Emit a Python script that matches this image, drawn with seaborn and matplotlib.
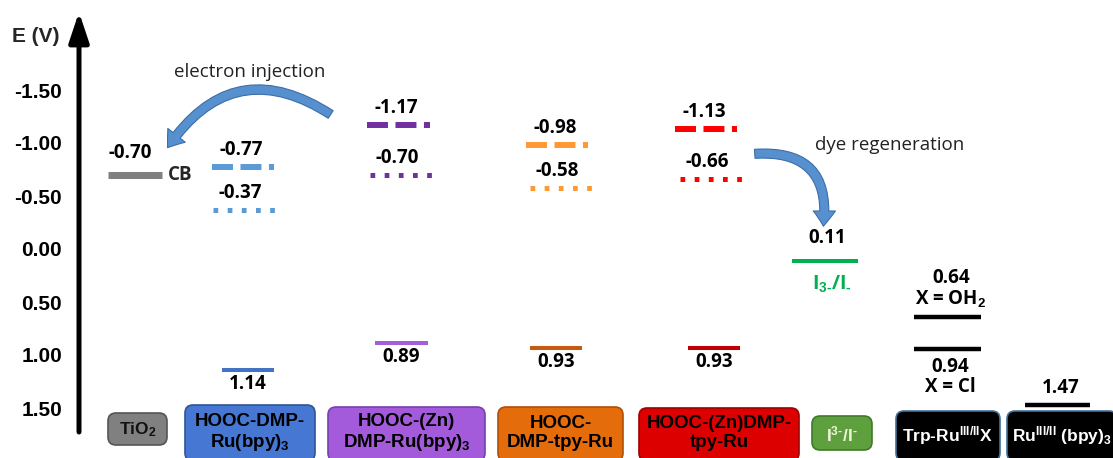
import matplotlib
matplotlib.use("Agg")
import matplotlib.pyplot as plt
from matplotlib.patches import FancyBboxPatch, FancyArrowPatch
import seaborn as sns

# ---- energy levels (V) ----
dyes = ["HOOC-DMP-Ru(bpy)3", "HOOC-(Zn)DMP-Ru(bpy)3", "HOOC-DMP-tpy-Ru", "HOOC-(Zn)DMP-tpy-Ru"]
excited_upper = [-0.77, -1.17, -0.98, -1.13]   # dashed levels
excited_lower = [-0.37, -0.70, -0.58, -0.66]   # dotted levels
ground_state = [1.14, 0.89, 0.93, 0.93]        # solid levels
tio2_cb = -0.70
iodide_redox = 0.11
trp_ru = [0.64, 0.94]
trp_ligands = ["X = OH$_2$", "X = Cl"]
ru_bpy = 1.47

tick_values = [-1.5, -1.0, -0.5, 0.0, 0.5, 1.0, 1.5]
tick_labels = ["-1.50", "-1.00", "-0.50", "0.00", "0.50", "1.00", "1.50"]

box_labels = ["TiO$_2$", "HOOC-DMP-\nRu(bpy)$_3$", "HOOC-(Zn)\nDMP-Ru(bpy)$_3$",
              "HOOC-\nDMP-tpy-Ru", "HOOC-(Zn)DMP-\ntpy-Ru", "I$^{3\u2010}$/I$^{\u2010}$",
              r"Trp-Ru$^{\rm III/II}$X", r"Ru$^{\rm III/II}$ (bpy)$_3$"]

# ---- styling / layout ----
sns.set_theme(style="white")
plt.rcParams["font.family"] = ["Open Sans", "DejaVu Sans"]
plt.rcParams["mathtext.fontset"] = "custom"
plt.rcParams["mathtext.rm"] = "Liberation Sans:bold"
plt.rcParams["mathtext.it"] = "Liberation Sans:bold"
plt.rcParams["mathtext.bf"] = "Liberation Sans:bold"
plt.rcParams["lines.scale_dashes"] = False

dye_colors = ["#5B9BD5", "#7030A0", "#FF9933", "#FF0000"]
ground_colors = ["#4472C4", "#A35FDB", "#C55A11", "#C00000"]
dash_x = [(212, 274), (367, 430), (526, 588), (675, 737)]
dot_x = [(213, 275), (370, 432), (530, 592), (680, 742)]
ground_x = [(222, 274), (375, 428), (530, 582), (688, 740)]

W, H = 1113, 458
PX = 0.72  # points per pixel at 100 dpi
fig = plt.figure(figsize=(W / 100, H / 100), dpi=100)
fig.patch.set_facecolor("white")

ax = fig.add_axes([0, 0, 1, 1])
ax.set_xlim(0, W)
ax.set_ylim(209 / 106, -249 / 106)   # energy axis, positive potentials downward
ax.set_facecolor("white")
sns.despine(ax=ax, left=True, bottom=True)
ax.set_xticks([])
ax.set_yticks(tick_values)
ax.set_yticklabels(tick_labels, fontweight="bold", family="Liberation Sans", fontsize=15)
ax.tick_params(axis="y", length=0, pad=-62 * PX, colors="black")
ax.grid(False)

label_kw = dict(ha="center", va="center", fontsize=13.5, fontweight="bold", color="black",
                textcoords="offset points")


def level(x0, x1, v, color, lw, ls="-"):
    ax.plot([x0, x1], [v, v], color=color, lw=lw, linestyle=ls,
            solid_capstyle="butt", dash_capstyle="butt")


def note(x, v, text, dy_px, **kw):
    opts = dict(label_kw)
    opts.update(kw)
    ax.annotate(text, (x, v), xytext=(0, dy_px * PX), **opts)


dashed = (0, (15.1, 5.4))
dotted = (0, (3.4, 6.8))

# TiO2 conduction band
level(108, 162, tio2_cb, "#808080", 5.0)
note(130, tio2_cb, f"{tio2_cb:.2f}", 22)
ax.annotate("CB", (168, tio2_cb), xytext=(0, 0), textcoords="offset points",
            ha="left", va="center", fontsize=13.5, fontweight="bold")

# dye levels
for i in range(len(dyes)):
    a, b = dash_x[i]
    level(a, b, excited_upper[i], dye_colors[i], 4.3, dashed)
    note((a + b) / 2 - 2, excited_upper[i], f"{excited_upper[i]:.2f}", 17)
    a, b = dot_x[i]
    level(a, b, excited_lower[i], dye_colors[i], 3.6, dotted)
    note((a + b) / 2 - 4, excited_lower[i], f"{excited_lower[i]:.2f}", 17)
    a, b = ground_x[i]
    level(a, b, ground_state[i], ground_colors[i], 2.9)
    note((a + b) / 2, ground_state[i], f"{ground_state[i]:.2f}", -14)

# iodide / triiodide couple
green = "#00B050"
level(792, 858, iodide_redox, green, 2.9)
note(827, iodide_redox, f"{iodide_redox:.2f}", 23)
note(832, iodide_redox, "I$_{3\u2010}$/I$_{\u2010}$", -23, color=green, fontsize=14)

# Trp-Ru complexes
level(914, 981, trp_ru[0], "black", 3.2)
note(951, trp_ru[0], f"{trp_ru[0]:.2f}", 39)
note(951, trp_ru[0], trp_ligands[0], 18)
level(914, 981, trp_ru[1], "black", 3.2)
note(950, trp_ru[1], f"{trp_ru[1]:.2f}", -18)
note(950, trp_ru[1], trp_ligands[1], -38)

# Ru(bpy)3
level(1025, 1090, ru_bpy, "black", 3.2)
note(1061, ru_bpy, f"{ru_bpy:.2f}", 17)

# ---- overlay in pixel units: axis arrow, curved arrows, category boxes ----
bx = fig.add_axes([0, 0, 1, 1])
bx.set_xlim(0, W)
bx.set_ylim(H, 0)
bx.axis("off")
bx.patch.set_alpha(0)

bx.annotate("", xy=(79, 12), xytext=(79, 432),
            arrowprops=dict(arrowstyle="-|>,head_length=0.9,head_width=0.3", lw=3.6,
                            color="black", mutation_scale=20, shrinkA=0, shrinkB=0))
bx.text(36, 36, "E (V)", ha="center", va="center", fontsize=15, fontweight="bold",
        family="Liberation Sans")

arrow_style = "simple,head_length=1.1,head_width=1.6,tail_width=0.65"
for start, end, rad in [((333, 116), (166, 150), 0.5), ((752, 154), (823, 229), -0.62)]:
    bx.add_patch(FancyArrowPatch(start, end, connectionstyle=f"arc3,rad={rad}",
                                 arrowstyle=arrow_style, mutation_scale=10,
                                 facecolor="#5690CF", edgecolor="#3B6EA8", lw=0.8))
bx.text(250, 72, "electron injection", ha="center", va="center", fontsize=13.5, color="#222222")
bx.text(890, 145, "dye regeneration", ha="center", va="center", fontsize=13.5, color="#222222")

boxes = [
    (108, 413, 59, 32, "#808080", "#555555", "#111111"),
    (185, 405, 130, 56, "#4677D2", "#2F5597", "black"),
    (328, 407, 157, 54, "#A35BDB", "#7A3FAF", "black"),
    (498, 407, 125, 54, "#E46C0A", "#B05008", "black"),
    (639, 408, 160, 53, "#DD0000", "#A00000", "black"),
    (812, 416, 60, 34, "#5E9F3E", "#3F7A2A", "#F2F2DC"),
    (896, 411, 104, 50, "black", "#41719C", "white"),
    (1007, 411, 110, 50, "black", "#41719C", "white"),
]
for (x, y, w, h, fc, ec, tc), lab in zip(boxes, box_labels):
    bx.add_patch(FancyBboxPatch((x, y), w, h, boxstyle="round,pad=0,rounding_size=8",
                                facecolor=fc, edgecolor=ec, lw=1.2, mutation_aspect=1))
    two_lines = "\n" in lab
    cy = 433 if two_lines else y + min(h, H - y) / 2 + 1
    bx.text(x + w / 2, cy, lab, ha="center", va="center",
            fontsize=13.5 if two_lines else 12.5, fontweight="bold",
            family="Liberation Sans", color=tc, linespacing=1.15)

fig.savefig("out.png", dpi=100, facecolor="white")
